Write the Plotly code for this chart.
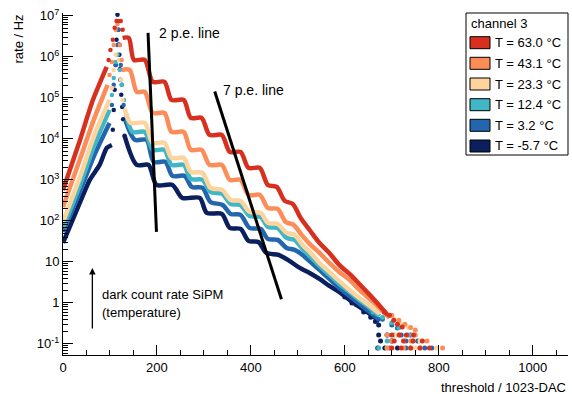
import math
import plotly.graph_objects as go

# ---------------- data (threshold in DAC, rate in Hz) ----------------
labels = ["T = 63.0 °C", "T = 43.1 °C", "T = 23.3 °C", "T = 12.4 °C", "T = 3.2 °C", "T = -5.7 °C"]
colors = ["#D7301F", "#FC8D59", "#FDD49E", "#41B6C4", "#2366AE", "#0B1F5E"]

# 63.0 C
red_rise_thr = [0, 35.5, 63, 93]
red_rise_rate = [570, 8.9e3, 8.5e4, 5.7e5]
red_peak_thr = [97, 101, 106, 110, 114, 118, 123, 127]
red_peak_rate = [8.45e5, 1.48e6, 2.6e6, 5.1e6, 7.55e6, 7.55e6, 7.55e6, 4.6e6]
red_fall_thr = [127, 140, 151, 174, 191, 216, 231, 257, 272, 295, 312, 338, 355, 378, 395, 419,
                436, 455, 472, 489, 506, 525, 546, 567, 588, 610, 631, 653, 674, 691]
red_fall_rate = [2.9e6, 2.9e6, 8.45e5, 8.45e5, 2.46e5, 2.46e5, 8.9e4, 8.9e4, 3.25e4, 3.25e4, 1.25e4, 1.25e4,
                 4.8e3, 4.8e3, 1.96e3, 1.96e3, 755, 675, 308, 260, 118, 60, 29, 16.6, 8.45, 5.1, 2.9, 1.57, 0.85, 0.51]
red_tail_thr = [684, 695, 704, 712, 722, 700, 716, 731, 746, 705, 725, 745, 765, 700, 720, 740, 760, 780]
red_tail_rate = [0.6, 0.5, 0.38, 0.3, 0.26, 0.166, 0.166, 0.166, 0.166, 0.118, 0.118, 0.118, 0.118,
                 0.08, 0.08, 0.08, 0.08, 0.08]

# 43.1 C
ora_rise_thr = [0, 35.5, 67, 95]
ora_rise_rate = [219, 3.07e3, 3.25e4, 2.08e5]
ora_peak_thr = [99, 104, 108, 112, 116, 121, 125]
ora_peak_rate = [3.6e5, 7.55e5, 1.96e6, 4.6e6, 6.3e6, 1.96e6, 8.45e5]
ora_fall_thr = [125, 142, 157, 174, 191, 216, 231, 257, 272, 295, 312, 338, 355, 378, 395, 419,
                436, 457, 474, 491, 508, 525, 546, 567, 588, 610, 631, 653, 674, 695]
ora_fall_rate = [4.8e5, 4.8e5, 1.4e5, 1.4e5, 4.3e4, 4.3e4, 1.48e4, 1.48e4, 5.4e3, 5.4e3, 2.32e3, 2.32e3,
                 1.0e3, 1.0e3, 431, 431, 207, 196, 94.6, 79.9, 45.6, 27.5, 16.6, 9.46, 5.7, 3.64, 2.07, 1.25,
                 0.755, 0.43]
ora_tail_thr = [680, 700, 715, 728, 740, 750, 690, 715, 750, 700, 740, 775, 690, 725, 760, 808]
ora_tail_rate = [0.65, 0.5, 0.38, 0.3, 0.25, 0.22, 0.166, 0.166, 0.166, 0.118, 0.118, 0.118,
                 0.08, 0.08, 0.08, 0.08]

# 23.3 C
pea_rise_thr = [0, 35.5, 67, 99]
pea_rise_rate = [94.6, 1.12e3, 1.25e4, 8.9e4]
pea_peak_thr = [104, 108, 112, 119, 123, 127, 132]
pea_peak_rate = [1.75e5, 4.8e5, 1.12e6, 8.45e5, 2.75e5, 8.9e4, 5.0e4]
pea_fall_thr = [132, 144, 174, 191, 216, 231, 257, 272, 297, 314, 339, 357, 378, 397, 421, 436, 457,
                476, 493, 510, 529, 546, 567, 588, 610, 631, 653, 674]
pea_fall_rate = [5.0e4, 2.45e4, 2.45e4, 8.0e3, 8.0e3, 3.44e3, 3.44e3, 1.57e3, 1.49e3, 638, 570, 325, 308, 166, 157,
                 89.4, 84.5, 51, 45.6, 26, 15.7, 9.46, 5.7, 3.44, 2.07, 1.32, 0.85, 0.54]
pea_tail_thr = [670, 690, 705, 720, 735, 710, 745, 725, 760, 690, 750, 795]
pea_tail_rate = [0.7, 0.5, 0.4, 0.3, 0.25, 0.166, 0.166, 0.118, 0.118, 0.08, 0.08, 0.08]

# 12.4 C
tea_rise_thr = [0, 35.5, 67, 99]
tea_rise_rate = [67.5, 714, 7.1e3, 5.1e4]
tea_peak_thr = [104, 108, 112, 116, 121, 125, 130, 135]
tea_peak_rate = [1.18e5, 3.06e5, 7.55e5, 1.12e6, 4.8e5, 2.08e5, 8.9e4, 3.8e4]
tea_fall_thr = [135, 148, 174, 191, 216, 231, 257, 272, 297, 314, 339, 357, 378, 397, 421, 436, 457,
                476, 493, 510, 529, 546, 567, 588, 610, 631, 653, 674]
tea_fall_rate = [3.8e4, 1.48e4, 1.48e4, 5.4e3, 5.4e3, 2.32e3, 2.32e3, 1.06e3, 1.0e3, 510, 456, 260, 245, 132, 125,
                 71.4, 67.5, 38.5, 34.4, 20.7, 12.5, 8.0, 4.82, 2.9, 1.85, 1.18, 0.755, 0.48]
tea_tail_thr = [660, 680, 700, 715, 705, 735, 690, 745, 672, 740]
tea_tail_rate = [0.6, 0.45, 0.33, 0.25, 0.166, 0.166, 0.118, 0.118, 0.08, 0.08]

# 3.2 C
blu_rise_thr = [0, 35.5, 67, 99]
blu_rise_rate = [54, 510, 4.1e3, 2.45e4]
blu_peak_thr = [104, 108, 112, 116, 118, 121, 123, 125, 129, 134]
blu_peak_rate = [6.7e4, 2.08e5, 6.3e5, 1.96e6, 4.6e6, 1.96e6, 6.3e5, 2.08e5, 6.7e4, 2.6e4]
blu_fall_thr = [134, 153, 178, 193, 218, 233, 259, 274, 297, 314, 340, 357, 378, 397, 421, 436, 457,
                476, 493, 510, 529, 546, 567, 588, 610, 631, 653, 674]
blu_fall_rate = [2.6e4, 9.5e3, 9.5e3, 2.75e3, 2.75e3, 1.25e3, 1.25e3, 675, 638, 290, 245, 148, 140, 67.5, 63.8,
                 36.4, 34.4, 21.9, 19.6, 14.8, 9.46, 6.38, 3.85, 2.32, 1.48, 0.95, 0.6, 0.385]
blu_tail_thr = [650, 665, 680, 700, 712, 690, 720, 740, 700, 730, 755, 695, 730, 770, 785]
blu_tail_rate = [0.7, 0.5, 0.4, 0.29, 0.245, 0.166, 0.166, 0.166, 0.118, 0.118, 0.118, 0.08, 0.08, 0.08, 0.08]

# -5.7 C
nav_rise_thr = [0, 25, 57, 78, 93, 104]
nav_rise_rate = [29, 140, 1.0e3, 2.32e3, 6.0e3, 7.1e3]
nav_peak_thr = [106, 108, 110, 112, 114, 116, 118, 119, 120, 121, 122, 124, 126, 128, 131]
nav_peak_rate = [1.66e4, 5.1e4, 1.57e5, 6.3e5, 2.6e6, 1.07e7, 4.6e6, 2.0e6, 1.12e6, 5.0e5, 2.75e5, 1.2e5,
                 6.0e4, 3.0e4, 1.2e4]
nav_fall_thr = [131, 157, 182, 199, 233, 254, 291, 306, 338, 355, 378, 395, 416, 433, 459, 482, 504,
                525, 546, 567, 588, 610, 631, 653, 674]
nav_fall_rate = [1.2e4, 2.32e3, 2.32e3, 755, 755, 364, 364, 157, 148, 67.5, 63.8, 32.5, 30.7, 16.6, 14.8, 10.6, 7.14,
                 5.39, 3.85, 2.6, 1.85, 1.18, 0.8, 0.54, 0.36]
nav_tail_thr = [588, 600, 615, 625, 640, 655, 665, 672, 672, 690, 676, 700, 670, 685, 712]
nav_tail_rate = [2.3, 1.4, 1.0, 0.9, 0.6, 0.45, 0.35, 0.29, 0.166, 0.166, 0.118, 0.118, 0.08, 0.08, 0.08]

# reference lines (threshold, rate)
pe2_thr = [181, 199]
pe2_rate = [3.85e6, 54]
pe7_thr = [323, 465]
pe7_rate = [1.43e5, 1.23]

x_ticks = [0, 200, 400, 600, 800, 1000]
y_ticks = [0.1, 1, 10, 100, 1e3, 1e4, 1e5, 1e6, 1e7]
y_tick_text = ["10<sup>-1</sup>", "1", "10", "10<sup>2</sup>", "10<sup>3</sup>", "10<sup>4</sup>",
               "10<sup>5</sup>", "10<sup>6</sup>", "10<sup>7</sup>"]

# ---------------- figure ----------------
W, H = 572, 394
ML, MR, MT, MB = 63, 4, 13, 39
FONT = "Liberation Sans, Arial, sans-serif"

fig = go.Figure()

series = [
    (5, nav_rise_thr, nav_rise_rate, nav_peak_thr, nav_peak_rate, nav_fall_thr, nav_fall_rate, nav_tail_thr, nav_tail_rate),
    (4, blu_rise_thr, blu_rise_rate, blu_peak_thr, blu_peak_rate, blu_fall_thr, blu_fall_rate, blu_tail_thr, blu_tail_rate),
    (3, tea_rise_thr, tea_rise_rate, tea_peak_thr, tea_peak_rate, tea_fall_thr, tea_fall_rate, tea_tail_thr, tea_tail_rate),
    (2, pea_rise_thr, pea_rise_rate, pea_peak_thr, pea_peak_rate, pea_fall_thr, pea_fall_rate, pea_tail_thr, pea_tail_rate),
    (1, ora_rise_thr, ora_rise_rate, ora_peak_thr, ora_peak_rate, ora_fall_thr, ora_fall_rate, ora_tail_thr, ora_tail_rate),
    (0, red_rise_thr, red_rise_rate, red_peak_thr, red_peak_rate, red_fall_thr, red_fall_rate, red_tail_thr, red_tail_rate),
]

for idx, rx, ry, px_, py_, fx, fy, tx, ty in series:
    c = colors[idx]
    fig.add_trace(go.Scatter(x=rx, y=ry, mode="lines", showlegend=False, hoverinfo="skip",
                             line=dict(color=c, width=4.5, shape="spline", smoothing=0.6)))
    fig.add_trace(go.Scatter(x=px_, y=py_, mode="markers", showlegend=False, hoverinfo="skip",
                             marker=dict(color=c, size=4.5)))
    fig.add_trace(go.Scatter(x=fx, y=fy, mode="lines", showlegend=False, hoverinfo="skip",
                             line=dict(color=c, width=4.5, shape="spline", smoothing=0.8)))
    fig.add_trace(go.Scatter(x=tx, y=ty, mode="markers", showlegend=False, hoverinfo="skip",
                             marker=dict(color=c, size=5)))

for lx, ly in [(pe2_thr, pe2_rate), (pe7_thr, pe7_rate)]:
    fig.add_trace(go.Scatter(x=lx, y=ly, mode="lines", showlegend=False, hoverinfo="skip",
                             line=dict(color="black", width=3)))

annotations = [
    dict(x=199.6, y=6.585, xref="x", yref="y", text="2 p.e. line", showarrow=False,
         xanchor="left", yanchor="middle", font=dict(size=14, color="black", family=FONT)),
    dict(x=337, y=5.195, xref="x", yref="y", text="7 p.e. line", showarrow=False,
         xanchor="left", yanchor="middle", font=dict(size=14, color="black", family=FONT)),
    dict(x=79.6, y=0.195, xref="x", yref="y", text="dark count rate SiPM", showarrow=False,
         xanchor="left", yanchor="middle", font=dict(size=13, color="black", family=FONT)),
    dict(x=79.6, y=-0.244, xref="x", yref="y", text="(temperature)", showarrow=False,
         xanchor="left", yanchor="middle", font=dict(size=13, color="black", family=FONT)),
    dict(x=62.5, y=math.log10(7.1), xref="x", yref="y", ax=62.5, ay=math.log10(0.22),
         axref="x", ayref="y", text="", showarrow=True, arrowhead=2, arrowsize=1,
         arrowwidth=1.3, arrowcolor="black"),
    dict(x=0, y=1, xref="paper", yref="paper", xshift=-45, text="rate / Hz", textangle=-90,
         showarrow=False, xanchor="center", yanchor="top", font=dict(size=13, color="black", family=FONT)),
    dict(x=1, y=0, xref="paper", yref="paper", yshift=-32, text="threshold / 1023-DAC",
         showarrow=False, xanchor="right", yanchor="middle", font=dict(size=13, color="black", family=FONT)),
]

# manual legend (pixel layout converted to paper coords)
PW, PH = W - ML - MR, H - MT - MB
def px2paper(px, py):
    return (px - ML) / PW, (H - MB - py) / PH

shapes = []
bx0, by0 = px2paper(466, 155)
bx1, by1 = px2paper(568, 13)
shapes.append(dict(type="rect", xref="paper", yref="paper", x0=bx0, y0=by0, x1=bx1, y1=by1,
                   line=dict(color="black", width=1), fillcolor="white", layer="above"))
tx_, ty_ = px2paper(469, 23)
annotations.append(dict(x=tx_, y=ty_, xref="paper", yref="paper", text="channel 3", showarrow=False,
                        xanchor="left", yanchor="middle", font=dict(size=13, color="black", family=FONT)))
row_py = [42.7, 63.3, 84.0, 104.7, 125.3, 146.0]
for i, rpy in enumerate(row_py):
    sx0, sy0 = px2paper(470, rpy + 6)
    sx1, sy1 = px2paper(490, rpy - 6)
    shapes.append(dict(type="rect", xref="paper", yref="paper", x0=sx0, y0=sy0, x1=sx1, y1=sy1,
                       line=dict(color="black", width=1), fillcolor=colors[i], layer="above"))
    lx_, ly_ = px2paper(492.5, rpy)
    annotations.append(dict(x=lx_, y=ly_, xref="paper", yref="paper", text=labels[i], showarrow=False,
                            xanchor="left", yanchor="middle",
                            font=dict(size=13, color="black", family=FONT)))

y_minor = [k * 10.0 ** d for d in range(-2, 7) for k in range(2, 10)]

fig.update_layout(
    width=W, height=H,
    margin=dict(l=ML, r=MR, t=MT, b=MB, pad=0),
    paper_bgcolor="white", plot_bgcolor="white",
    font=dict(family=FONT, size=13, color="black"),
    annotations=annotations, shapes=shapes,
    xaxis=dict(range=[0, 1075], showline=True, linecolor="black", linewidth=1,
               ticks="inside", ticklen=10, tickwidth=1, tickcolor="black",
               tickmode="array", tickvals=x_ticks, ticktext=[str(v) for v in x_ticks],
               minor=dict(ticks="inside", ticklen=5, tickwidth=1, tickcolor="black", dtick=50, tick0=0),
               showgrid=False, zeroline=False, tickfont=dict(size=13, family=FONT, color="black")),
    yaxis=dict(type="log", range=[-1.27, 7.07], showline=True, linecolor="black", linewidth=1,
               ticks="inside", ticklen=10, tickwidth=1, tickcolor="black",
               tickmode="array", tickvals=y_ticks, ticktext=y_tick_text,
               minor=dict(ticks="inside", ticklen=5, tickwidth=1, tickcolor="black",
                          tickmode="array", tickvals=y_minor),
               showgrid=False, zeroline=False, tickfont=dict(size=13, family=FONT, color="black")),
)

fig.write_html("out.html")
